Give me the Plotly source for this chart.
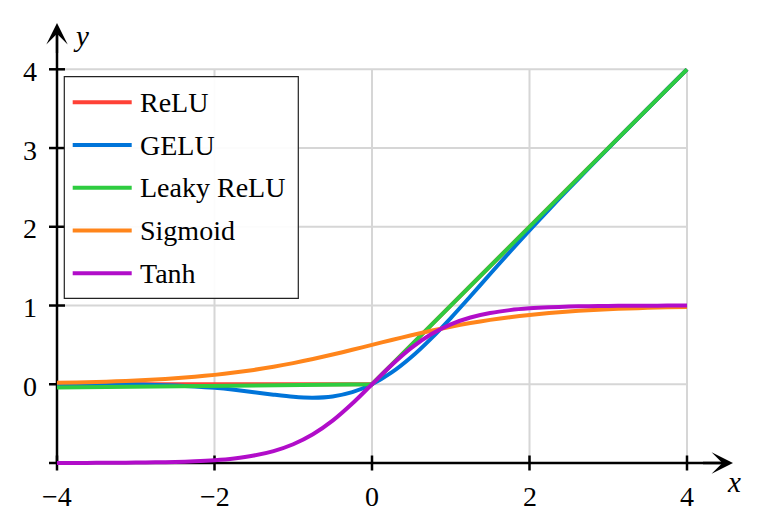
import plotly.graph_objects as go

# ---------------- data ----------------
x_vals = [-4.0, -3.75, -3.5, -3.25, -3.0, -2.75, -2.5, -2.25, -2.0, -1.75, -1.5, -1.25,
          -1.0, -0.75, -0.5, -0.25, 0.0, 0.25, 0.5, 0.75, 1.0, 1.25, 1.5, 1.75,
          2.0, 2.25, 2.5, 2.75, 3.0, 3.25, 3.5, 3.75, 4.0]

relu = [0, 0, 0, 0, 0, 0, 0, 0, 0, 0, 0, 0, 0, 0, 0, 0, 0,
        0.25, 0.5, 0.75, 1.0, 1.25, 1.5, 1.75, 2.0, 2.25, 2.5, 2.75, 3.0, 3.25, 3.5, 3.75, 4.0]

gelu = [-0.0001, -0.0003, -0.0008, -0.0019, -0.0040, -0.0082, -0.0155, -0.0275, -0.0455,
        -0.0701, -0.1002, -0.1321, -0.1587, -0.1700, -0.1543, -0.1003, 0.0,
        0.1497, 0.3457, 0.5800, 0.8413, 1.1179, 1.3998, 1.6799, 1.9545, 2.2225,
        2.4845, 2.7418, 2.9960, 3.2481, 3.4992, 3.7497, 3.9999]

leaky_relu = [-0.04, -0.0375, -0.035, -0.0325, -0.03, -0.0275, -0.025, -0.0225, -0.02,
              -0.0175, -0.015, -0.0125, -0.01, -0.0075, -0.005, -0.0025, 0.0,
              0.25, 0.5, 0.75, 1.0, 1.25, 1.5, 1.75, 2.0, 2.25, 2.5, 2.75, 3.0, 3.25, 3.5, 3.75, 4.0]

sigmoid = [0.0180, 0.0230, 0.0293, 0.0373, 0.0474, 0.0601, 0.0759, 0.0953, 0.1192,
           0.1480, 0.1824, 0.2227, 0.2689, 0.3208, 0.3775, 0.4378, 0.5,
           0.5622, 0.6225, 0.6792, 0.7311, 0.7773, 0.8176, 0.8520, 0.8808, 0.9047,
           0.9241, 0.9399, 0.9526, 0.9627, 0.9707, 0.9770, 0.9820]

tanh = [-0.9993, -0.9989, -0.9982, -0.9970, -0.9951, -0.9919, -0.9866, -0.9780, -0.9640,
        -0.9414, -0.9051, -0.8483, -0.7616, -0.6351, -0.4621, -0.2449, 0.0,
        0.2449, 0.4621, 0.6351, 0.7616, 0.8483, 0.9051, 0.9414, 0.9640, 0.9780,
        0.9866, 0.9919, 0.9951, 0.9970, 0.9982, 0.9989, 0.9993]

series_names = ["ReLU", "GELU", "Leaky ReLU", "Sigmoid", "Tanh"]
series_values = [relu, gelu, leaky_relu, sigmoid, tanh]
series_shapes = ["linear", "spline", "linear", "spline", "spline"]
series_colors = ["#ff4136", "#0074d9", "#2ecc40", "#ff851b", "#b10dc9"]

x_ticks = [-4, -2, 0, 2, 4]
x_tick_labels = ["\u22124", "\u22122", "0", "2", "4"]
y_ticks = [-1, 0, 1, 2, 3, 4]
y_tick_labels = ["", "0", "1", "2", "3", "4"]
x_grid = [-2, 0, 2, 4]
y_grid = [0, 1, 2, 3, 4]

# ---------------- layout geometry ----------------
W, H = 765, 527
ML, MR, MT, MB = 10, 10, 10, 10
X0PX, XSCALE = 57.0, 78.75      # pixel of x=-4, px per unit
Y4PX, YSCALE = 69.3, 78.74      # pixel of y=4, px per unit
x_lo = -4 - (X0PX - ML) / XSCALE
x_hi = -4 + (W - MR - X0PX) / XSCALE
y_hi = 4 + (Y4PX - MT) / YSCALE
y_lo = 4 - (H - MB - Y4PX) / YSCALE
X_MIN, X_MAX, Y_MIN, Y_MAX = -4, 4, -1, 4
X_TIP = 4.584
Y_TIP = 4.588


def pxx(p):
    return (p - ML) / (W - ML - MR)


def pxy(p):
    return 1 - (p - MT) / (H - MT - MB)


FONT = "Liberation Serif"
FS = 28

fig = go.Figure()
for name, vals, shp, col in zip(series_names, series_values, series_shapes, series_colors):
    fig.add_trace(go.Scatter(x=x_vals, y=vals, mode="lines", name=name,
                             line=dict(color=col, width=4, shape=shp, smoothing=0.8),
                             showlegend=False, hoverinfo="skip"))

shapes = []
grid_col = "#d6d6d6"
for gx in x_grid:
    shapes.append(dict(type="line", xref="x", yref="y", x0=gx, x1=gx, y0=Y_MIN, y1=Y_MAX,
                       line=dict(color=grid_col, width=2), layer="below"))
for gy in y_grid:
    shapes.append(dict(type="line", xref="x", yref="y", x0=X_MIN, x1=X_MAX, y0=gy, y1=gy,
                       line=dict(color=grid_col, width=2), layer="below"))
# axis lines
shapes.append(dict(type="line", xref="x", yref="y", x0=X_MIN, x1=X_TIP - 0.1, y0=Y_MIN, y1=Y_MIN,
                   line=dict(color="black", width=2.5), layer="below"))
shapes.append(dict(type="line", xref="x", yref="y", x0=X_MIN, x1=X_MIN, y0=Y_MIN, y1=Y_TIP - 0.1,
                   line=dict(color="black", width=2.5), layer="below"))
# tick marks
for tx in x_ticks:
    shapes.append(dict(type="line", xref="x", yref="y", ysizemode="pixel", yanchor=Y_MIN,
                       x0=tx, x1=tx, y0=-7.5, y1=7.5, line=dict(color="black", width=2.5),
                       layer="below"))
for ty in y_ticks:
    shapes.append(dict(type="line", xref="x", yref="y", xsizemode="pixel", xanchor=X_MIN,
                       y0=ty, y1=ty, x0=-8, x1=8, line=dict(color="black", width=2.5),
                       layer="below"))

# legend box (drawn manually to match the reference's geometry)
LEG_L, LEG_R, LEG_T, LEG_B = 64.3, 298.3, 76.7, 298.3
shapes.append(dict(type="rect", xref="paper", yref="paper",
                   x0=pxx(LEG_L), x1=pxx(LEG_R), y0=pxy(LEG_B), y1=pxy(LEG_T),
                   fillcolor="rgba(255,255,255,0.93)", line=dict(color="#222222", width=1.2),
                   layer="above"))

annotations = []
LEG_Y0, LEG_DY = 102.3, 42.75
for i, (name, col) in enumerate(zip(series_names, series_colors)):
    yy = pxy(LEG_Y0 + i * LEG_DY)
    shapes.append(dict(type="line", xref="paper", yref="paper", x0=pxx(72.7), x1=pxx(131.7),
                       y0=yy, y1=yy, line=dict(color=col, width=4), layer="above"))
    annotations.append(dict(xref="paper", yref="paper", x=pxx(138), y=yy, text=name,
                            showarrow=False, xanchor="left", yanchor="middle",
                            font=dict(family=FONT, size=FS, color="black")))

# tick labels
for tx, tl in zip(x_ticks, x_tick_labels):
    annotations.append(dict(xref="x", yref="y", x=tx, y=Y_MIN, text=tl, showarrow=False,
                            xanchor="center", yanchor="top", yshift=-16,
                            font=dict(family=FONT, size=FS, color="black")))
for ty, tl in zip(y_ticks, y_tick_labels):
    if tl:
        annotations.append(dict(xref="x", yref="y", x=X_MIN, y=ty, text=tl, showarrow=False,
                                xanchor="right", yanchor="middle", xshift=-18, yshift=-2,
                                font=dict(family=FONT, size=FS, color="black")))

# axis arrows
annotations.append(dict(xref="x", yref="y", axref="x", ayref="y", x=X_TIP, y=Y_MIN,
                        ax=X_TIP - 0.4, ay=Y_MIN, text="", showarrow=True, arrowhead=3,
                        arrowsize=1.55, arrowwidth=2.3, arrowcolor="black", standoff=0))
annotations.append(dict(xref="x", yref="y", axref="x", ayref="y", x=X_MIN, y=Y_TIP,
                        ax=X_MIN, ay=Y_TIP - 0.4, text="", showarrow=True, arrowhead=3,
                        arrowsize=1.55, arrowwidth=2.3, arrowcolor="black", standoff=0))
# axis titles
annotations.append(dict(xref="paper", yref="paper", x=pxx(734), y=pxy(482), text="<i>x</i>",
                        showarrow=False, xanchor="center", yanchor="middle",
                        font=dict(family=FONT, size=29, color="black")))
annotations.append(dict(xref="paper", yref="paper", x=pxx(81), y=pxy(36), text="<i>y</i>",
                        showarrow=False, xanchor="center", yanchor="middle",
                        font=dict(family=FONT, size=29, color="black")))

fig.update_layout(
    width=W, height=H,
    margin=dict(l=ML, r=MR, t=MT, b=MB),
    paper_bgcolor="white", plot_bgcolor="white",
    font=dict(family=FONT, size=FS, color="black"),
    xaxis=dict(range=[x_lo, x_hi], visible=False, fixedrange=True),
    yaxis=dict(range=[y_lo, y_hi], visible=False, fixedrange=True),
    shapes=shapes, annotations=annotations,
    showlegend=False,
)

fig.write_html("out.html")
